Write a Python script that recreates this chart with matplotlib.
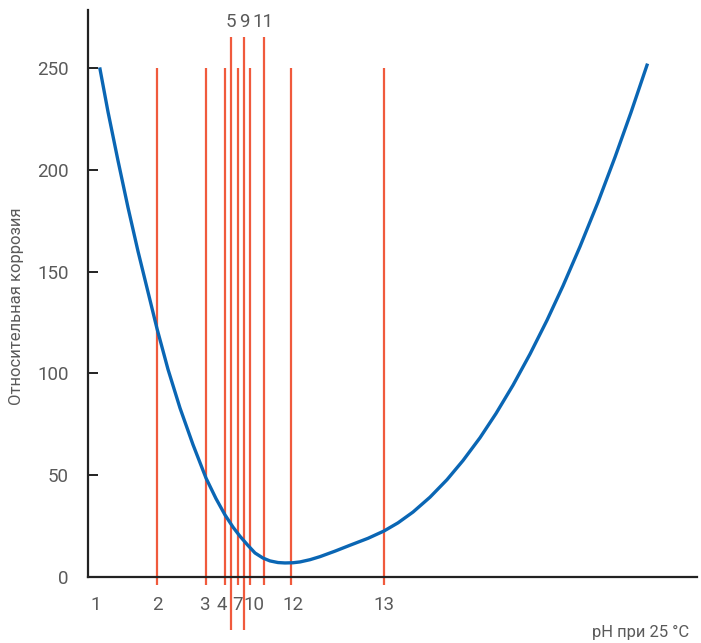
import numpy as np
import matplotlib
matplotlib.use("Agg")
import matplotlib.pyplot as plt

plt.rcParams['font.family'] = ['Roboto', 'DejaVu Sans']

# Curve (x in chart units, y = relative corrosion)
curve_x = [1.2, 2.0, 3.0, 4.0, 5.0, 6.0, 6.9, 8.0, 9.2, 10.5, 11.8, 12.8, 13.7,
           14.5, 15.2, 16.0, 16.7, 17.5, 18.2, 19.0, 19.7, 20.5, 21.2, 22.2,
           23.2, 24.7, 26.2, 28.0, 29.6, 31.0, 32.5, 34.2, 35.9, 37.5, 39.2,
           40.8, 42.5, 44.2, 45.9, 47.5, 49.2, 51.0, 52.7, 54.3, 55.9]
curve_y = [249.5, 228.5, 204.5, 181.5, 160, 140, 122, 102, 83, 65, 48.6, 38.5, 30.5,
           24.5, 20.0, 15.5, 11.8, 9.3, 7.9, 7.1, 6.9, 7.0, 7.4, 8.5,
           10.0, 12.7, 15.6, 19.0, 22.6, 26.6, 31.9, 39.2, 47.8, 57.2, 68.4,
           80.3, 94.2, 109.5, 126.1, 143.0, 162.3, 184.1, 206.2, 228.2, 251.4]

# Red marker lines: position, top and bottom
line_x = [6.9, 11.8, 13.7, 14.3, 15.0, 15.6, 16.2, 17.6, 20.3, 29.6]
line_top = [250, 250, 250, 265, 250, 265, 250, 265, 250, 250]
line_bottom = [-4, -4, -4, -26, -4, -26, -4, -4, -4, -4]

bottom_labels = ['1', '2', '3', '4', '7', '10', '12', '13']
bottom_label_x = [0.8, 6.9, 11.6, 13.4, 15.0, 16.6, 20.5, 29.6]
top_labels = ['5', '9', '11']
top_label_x = [14.3, 15.6, 17.5]

y_ticks = [0, 50, 100, 150, 200, 250]

red = '#f05a3c'
blue = '#0a66b4'
grey = '#5a5a5a'

fig = plt.figure(figsize=(7.01, 6.43), dpi=100)
ax = fig.add_axes([88 / 701, 66 / 643, 609 / 701, 567 / 643])

ax.vlines(line_x, line_bottom, line_top, color=red, lw=1.6, clip_on=False, zorder=2)
ax.plot(curve_x, curve_y, color=blue, lw=2.4, solid_joinstyle='round', zorder=3)

ax.set_xlim(0, 60.9)
ax.set_ylim(0, 278.5)

for s in ['top', 'right']:
    ax.spines[s].set_visible(False)
for s in ['left', 'bottom']:
    ax.spines[s].set_linewidth(1.6)
    ax.spines[s].set_color('#222222')

ax.set_yticks(y_ticks)
ax.set_yticklabels([str(v) for v in y_ticks])
ax.tick_params(axis='y', direction='in', length=7, width=1.4, color='#222222',
               pad=14, labelsize=13.5, labelcolor=grey)

ax.set_xticks(bottom_label_x)
ax.set_xticklabels(bottom_labels)
ax.tick_params(axis='x', length=0, pad=14, labelsize=13.5, labelcolor=grey)

for xv, t in zip(top_label_x, top_labels):
    ax.text(xv, 272.5, t, ha='center', va='center', fontsize=13.5,
            color=grey, clip_on=False)

fig.text(17 / 701, 1 - 306 / 643, 'Относительная коррозия', rotation=90,
         ha='center', va='center', fontsize=12, color=grey)
fig.text(641 / 701, 1 - 632 / 643, 'pH при 25 °C', ha='center', va='center',
         fontsize=12, color=grey)

fig.savefig('out.png', dpi=100)
